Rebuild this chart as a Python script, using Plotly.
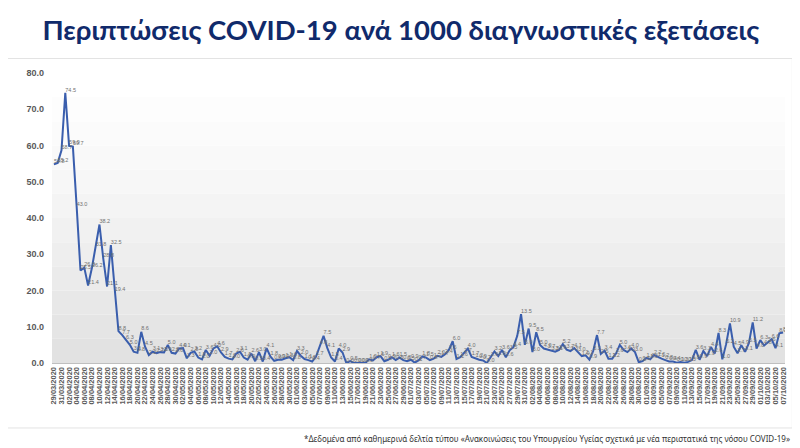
import pandas as pd
import plotly.graph_objects as go

# daily cases per 1000 diagnostic tests, 29/03/2020 - 07/10/2020
dates = pd.date_range("2020-03-29", "2020-10-07", freq="D")

rate = [
    54.8, 55.2, 58.7, 74.5, 59.9, 59.7, 43.0, 25.5, 26.3, 21.4,
    26.2, 31.8, 38.2, 28.8, 21.1, 32.5, 19.4, 8.8, 7.7, 6.3,
    5.0, 3.1, 2.8, 8.6, 4.5, 2.2, 3.1, 2.7, 3.0, 2.9,
    5.0, 2.8, 2.6, 4.0, 4.1, 1.3, 2.8, 3.2, 1.5, 1.0,
    3.6, 2.0, 4.0, 4.6, 2.9, 1.7, 1.2, 1.0, 2.6, 3.1,
    1.5, 0.9, 2.6, 0.5, 3.0, 0.4, 4.1, 1.8, 0.6, 0.9,
    0.9, 1.3, 1.6, 0.8, 3.3, 2.0, 1.1, 0.8, 0.4, 1.7,
    4.8, 7.5, 4.1, 1.5, 0.4, 4.0, 2.9, 0.0, 0.5, 0.0,
    0.0, 0.0, 0.0, 1.0, 0.7, 1.6, 1.9, 0.5, 0.9, 1.6,
    0.8, 1.5, 0.8, 0.5, 0.9, 0.1, 0.7, 1.8, 1.5, 0.8,
    1.2, 2.0, 1.7, 2.4, 3.6, 6.0, 1.1, 1.6, 2.7, 4.0,
    1.7, 1.2, 0.9, 0.7, 0.0, 1.6, 3.2, 1.9, 3.6, 1.6,
    3.5, 4.4, 7.5, 13.5, 5.0, 9.5, 3.0, 8.5, 5.0, 4.0,
    3.7, 3.3, 3.1, 3.6, 5.2, 3.7, 3.3, 4.1, 3.0, 1.9,
    2.1, 0.9, 3.3, 7.7, 2.5, 3.4, 1.2, 1.2, 2.6, 5.0,
    3.6, 3.0, 4.0, 3.0, 0.2, 0.5, 1.4, 1.0, 2.2, 1.6,
    1.2, 0.8, 0.4, 0.4, 0.1, 0.3, 0.1, 0.3, 0.8, 3.6,
    0.9, 3.3, 1.9, 4.4, 2.6, 8.3, 1.0, 5.2, 10.9, 4.5,
    2.7, 4.9, 3.1, 5.5, 11.2, 4.0, 6.3, 4.8, 5.6, 6.6,
    4.1, 8.2, 8.4, 10.0,
]

title_text = "Περιπτώσεις COVID-19 ανά 1000 διαγνωστικές εξετάσεις"
source_text = ("*Δεδομένα από καθημερινά δελτία τύπου «Ανακοινώσεις του Υπουργείου Υγείας "
               "σχετικά με νέα περιστατικά της νόσου COVID-19»")

fig = go.Figure()
fig.add_trace(go.Scatter(
    x=dates, y=rate,
    mode="lines+text",
    line=dict(color="#3a5ead", width=2),
    text=[f"{v:.1f}" for v in rate],
    textposition="top right",
    textfont=dict(size=5.5, color="#707070", family="Liberation Sans"),
    hoverinfo="x+y",
    showlegend=False,
))

# light grey gradient behind the plot area (white at top, grey at bottom)
n_bands = 12
for k in range(n_bands):
    g = int(255 - (255 - 226) * (1 - k / (n_bands - 1)) ** 1.3)
    fig.add_shape(
        type="rect", xref="x domain", yref="y domain",
        x0=0, x1=1, y0=k / n_bands, y1=(k + 1) / n_bands,
        fillcolor=f"rgb({g},{g},{g})", line=dict(width=0), layer="below",
    )

# outer chart frame
fig.add_shape(type="rect", xref="paper", yref="paper",
              x0=-0.067, x1=1.01, y0=-0.224, y1=1.05,
              line=dict(color="#e3e3e3", width=1), layer="below")

# the page body adds an 8px offset, so the figure is 8px smaller
fig.update_layout(
    width=792, height=440,
    margin=dict(l=44, r=13, t=65, b=85),
    paper_bgcolor="white",
    plot_bgcolor="white",
    title=dict(text=title_text, x=0.496, xref="container", y=0.95, yanchor="middle",
               xanchor="center",
               font=dict(family="Lato", size=27.5, color="#102a6b", weight="bold")),
    xaxis=dict(
        range=[pd.Timestamp("2020-03-28 12:00"), pd.Timestamp("2020-10-07 12:00")],
        tick0="2020-03-29", dtick=2 * 86400000,
        tickformat="%d/%m/%Y", tickangle=-90,
        tickfont=dict(family="Liberation Sans", size=7.5, color="#595959", weight="bold"),
        showgrid=False, showline=True, linecolor="#bfbfbf", ticks="",
        zeroline=False,
    ),
    yaxis=dict(
        range=[0, 80], dtick=10, tickformat=".1f",
        tickfont=dict(family="Liberation Sans", size=9, color="#595959", weight="bold"),
        showgrid=False, zeroline=False, showline=False, ticks="",
        ticklabelstandoff=7,
    ),
    annotations=[dict(
        text=source_text, xref="paper", yref="paper",
        x=1.01, y=-0.259, xanchor="right", yanchor="middle", showarrow=False,
        font=dict(family="Noto Sans", size=8, color="#333333"),
    )],
)

fig.write_html("out.html")
